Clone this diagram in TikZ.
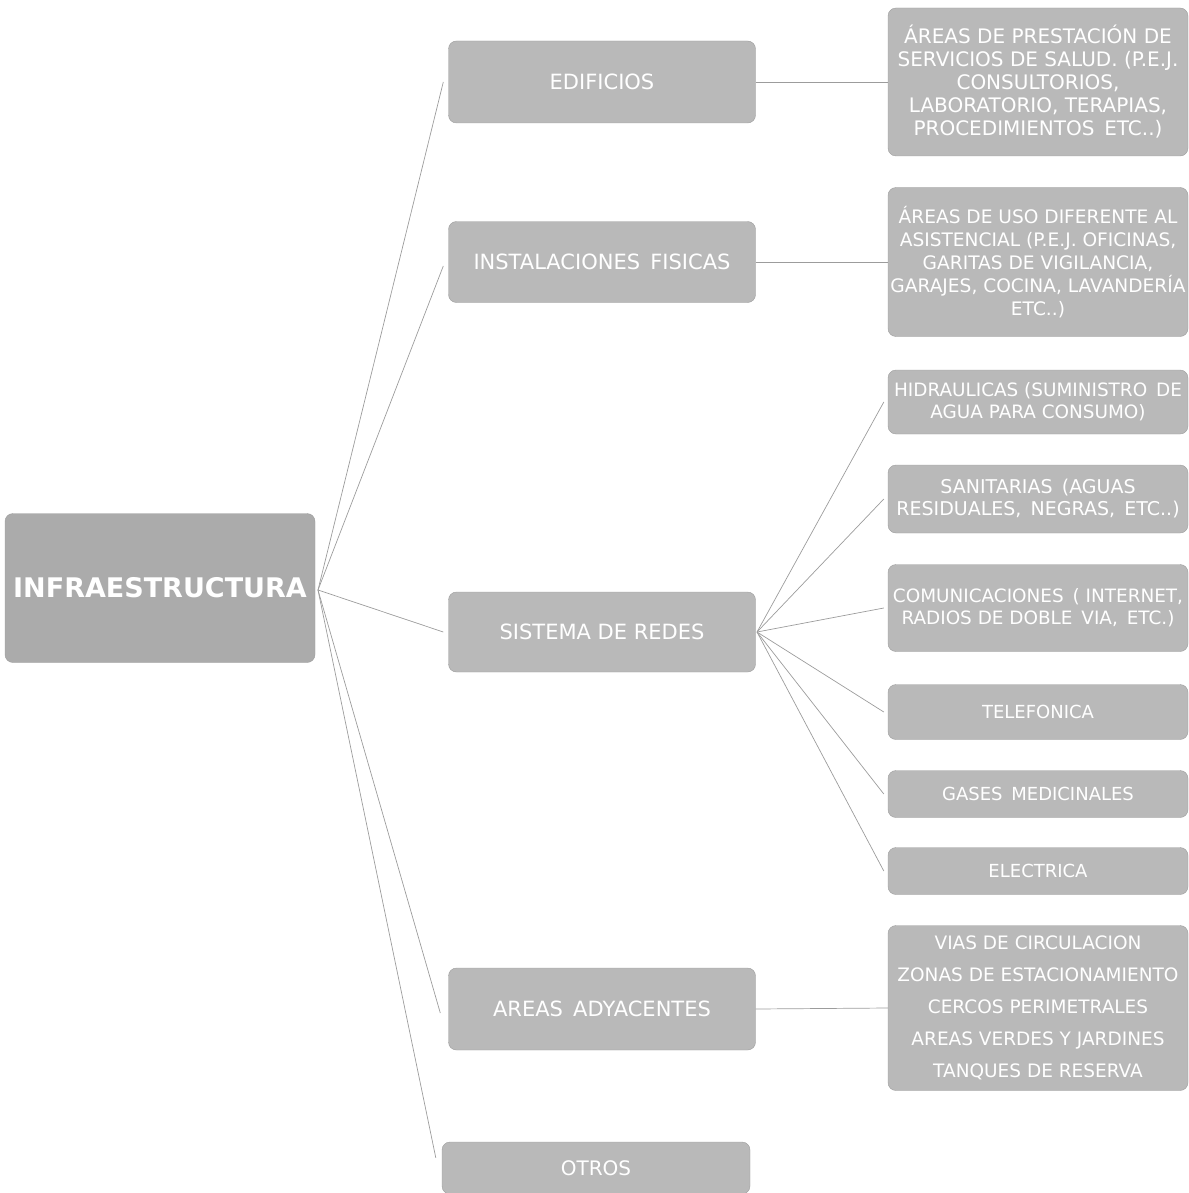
\documentclass[tikz,border=0pt]{standalone}
\usepackage{fontspec}
\setmainfont{DejaVu Sans}
\definecolor{boxgray}{HTML}{B9B9B9}
\definecolor{maingray}{HTML}{ABABAB}
\definecolor{linegray}{HTML}{9C9C9C}
\begin{document}
\begin{tikzpicture}[x=1pt,y=-1pt,
  base/.style={fill=boxgray,draw=boxgray!85!black,line width=0.4pt,rounded corners=8pt,text=white,align=center,inner sep=0pt},
  mainbox/.style={base,fill=maingray,minimum width=310pt,minimum height=149pt,font=\bfseries\fontsize{27}{30}\selectfont},
  midbox/.style={base,minimum width=307pt,font=\fontsize{21}{24}\selectfont},
  rbox/.style={base,minimum width=300pt,font=\fontsize{20}{23}\selectfont},
  conn/.style={draw=linegray,line width=0.7pt}]
\useasboundingbox (0,0) rectangle (1188,1193);
% main
\node[mainbox] (infra) at (160,588) {INFRAESTRUCTURA};
% level 2
\node[midbox,minimum height=82pt] (edif) at (602,82) {EDIFICIOS};
\node[midbox,minimum height=81pt] (inst) at (602,262) {INSTALACIONES\, FISICAS};
\node[midbox,minimum height=80pt] (redes) at (602,632) {SISTEMA DE REDES};
\node[midbox,minimum height=82pt] (adya) at (602,1009) {AREAS\, ADYACENTES};
\node[midbox,minimum width=308pt,minimum height=52pt,font=\fontsize{20}{23}\selectfont] (otros) at (596,1168) {OTROS};
% right column
\node[rbox,minimum height=148pt] (r1) at (1038,82) {ÁREAS DE PRESTACIÓN DE\\SERVICIOS DE SALUD. (P.E.J.\\CONSULTORIOS,\\LABORATORIO, TERAPIAS,\\PROCEDIMIENTOS\, ETC..)};
\node[rbox,minimum height=149pt,font=\fontsize{18.6}{23}\selectfont] (r2) at (1038,262) {ÁREAS DE USO DIFERENTE AL\\ASISTENCIAL (P.E.J. OFICINAS,\\GARITAS DE VIGILANCIA,\\GARAJES, COCINA, LAVANDERÍA\\ETC..)};
\node[rbox,minimum height=64pt,font=\fontsize{18.4}{22}\selectfont] (r3) at (1038,402) {HIDRAULICAS (SUMINISTRO\, DE\\AGUA PARA CONSUMO)};
\node[rbox,minimum height=68pt,font=\fontsize{19}{22}\selectfont] (r4) at (1038,499) {SANITARIAS\, (AGUAS\\RESIDUALES,\, NEGRAS,\, ETC..)};
\node[rbox,minimum height=87pt,font=\fontsize{18.4}{22}\selectfont] (r5) at (1038,608) {COMUNICACIONES\, ( INTERNET,\\RADIOS DE DOBLE\, VIA,\, ETC.)};
\node[rbox,minimum height=55pt,font=\fontsize{18}{20}\selectfont] (r6) at (1038,712) {TELEFONICA};
\node[rbox,minimum height=47pt,font=\fontsize{18}{20}\selectfont] (r7) at (1038,794) {GASES\, MEDICINALES};
\node[rbox,minimum height=47pt,font=\fontsize{18}{20}\selectfont] (r8) at (1038,871) {ELECTRICA};
\node[rbox,minimum height=165pt,font=\fontsize{18.5}{32}\selectfont] (r9) at (1038,1008) {VIAS DE CIRCULACION\\ZONAS DE ESTACIONAMIENTO\\CERCOS PERIMETRALES\\AREAS VERDES Y JARDINES\\TANQUES DE RESERVA};
% connectors from main
\coordinate (hub) at (318,590);
\draw[conn] (hub) -- ([xshift=-5pt]edif.west);
\draw[conn] (hub) -- ([xshift=-5pt,yshift=-4pt]inst.west);
\draw[conn] (hub) -- ([xshift=-5pt]redes.west);
\draw[conn] (hub) -- ([xshift=-8pt,yshift=-4pt]adya.west);
\draw[conn] (hub) -- ([xshift=-6pt,yshift=-16pt]otros.north west);
% level 2 to right
\draw[conn] (edif.east) -- (r1.west);
\draw[conn] (inst.east) -- (r2.west);
\draw[conn] (adya.east) -- (r9.west);
\coordinate (rhub) at (757,632);
\foreach \t in {r3,r4,r5,r6,r7,r8} \draw[conn] (rhub) -- ([xshift=-4pt]\t.west);
\end{tikzpicture}
\end{document}
